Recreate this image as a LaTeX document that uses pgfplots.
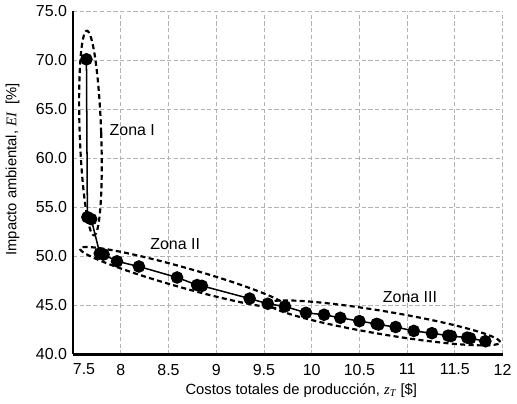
\documentclass[border=0pt]{standalone}
\usepackage{pgfplots}
\pgfplotsset{compat=1.18}
\usepackage{fontspec}
\setmainfont{Liberation Sans}
\newfontfamily\tnr{Liberation Serif}

% Pareto front
\pgfplotstableread{
x      y
7.64   70.1
7.65   54.0
7.69   53.8
7.78   50.3
7.82   50.2
7.96   49.5
8.19   48.97
8.59   47.85
8.80   47.08
8.85   47.0
9.35   45.7
9.54   45.17
9.72   44.9
9.94   44.25
10.13  44.05
10.30  43.74
10.50  43.4
10.68  43.12
10.70  43.05
10.88  42.8
11.07  42.4
11.26  42.17
11.43  41.92
11.46  41.88
11.63  41.72
11.66  41.65
11.82  41.35
}\front

\begin{document}
\begin{tikzpicture}
\begin{axis}[
    scale only axis,
    width=256pt, height=204.6pt,
    xmin=7.5, xmax=12,
    ymin=40, ymax=75,
    xtick={7.5,8,8.5,9,9.5,10,10.5,11,11.5,12},
    ytick={40,45,50,55,60,65,70,75},
    xticklabel={\ifdim\tick pt<7.6pt\hspace*{13pt}\fi\pgfmathprintnumber{\tick}},
    yticklabel style={xshift=2pt, /pgf/number format/.cd, fixed, fixed zerofill, precision=1},
    /pgf/number format/assume math mode=true,
    axis lines=left,
    axis line style={-, line width=1.5pt},
    tick style={draw=none},
    grid=major,
    grid style={dash pattern=on 2.5pt off 1.5pt, gray!60, line width=0.5pt},
    tick label style={font=\fontsize{9.5}{11}\selectfont},
    label style={font=\fontsize{8.8}{10}\selectfont},
    xlabel={Costos totales de producción, {\tnr\itshape z}\textsubscript{\tnr\itshape T} [\$]},
    ylabel={Impacto ambiental, {\tnr\itshape EI}\ \ [\%]},
    xlabel style={yshift=2pt, xshift=8pt},
    ylabel style={yshift=3pt, xshift=8pt},
    clip=false,
]
\addplot[black, line width=0.9pt, mark=*, mark size=3.3pt] table[x=x, y=y] {\front};

\draw[dash pattern=on 3pt off 2pt, line width=1.3pt, rotate around={2:(axis cs:7.682,62.58)}]
    (axis cs:7.682,62.58) ellipse [x radius=6.4pt, y radius=61pt];
\draw[dash pattern=on 3pt off 2pt, line width=1.3pt, rotate around={-15.7:(axis cs:8.656,47.84)}]
    (axis cs:8.656,47.84) ellipse [x radius=64pt, y radius=6pt];
\draw[dash pattern=on 3pt off 2pt, line width=1.3pt, rotate around={-9.5:(axis cs:10.76,43.22)}]
    (axis cs:10.76,43.22) ellipse [x radius=70pt, y radius=6.9pt];

\node[font=\fontsize{9.5}{11}\selectfont] at (axis cs:8.12,62.9) {Zona I};
\node[font=\fontsize{9.5}{11}\selectfont] at (axis cs:8.57,51.26) {Zona II};
\node[font=\fontsize{9.5}{11}\selectfont] at (axis cs:11.03,45.9) {Zona III};
\end{axis}
\end{tikzpicture}
\end{document}
